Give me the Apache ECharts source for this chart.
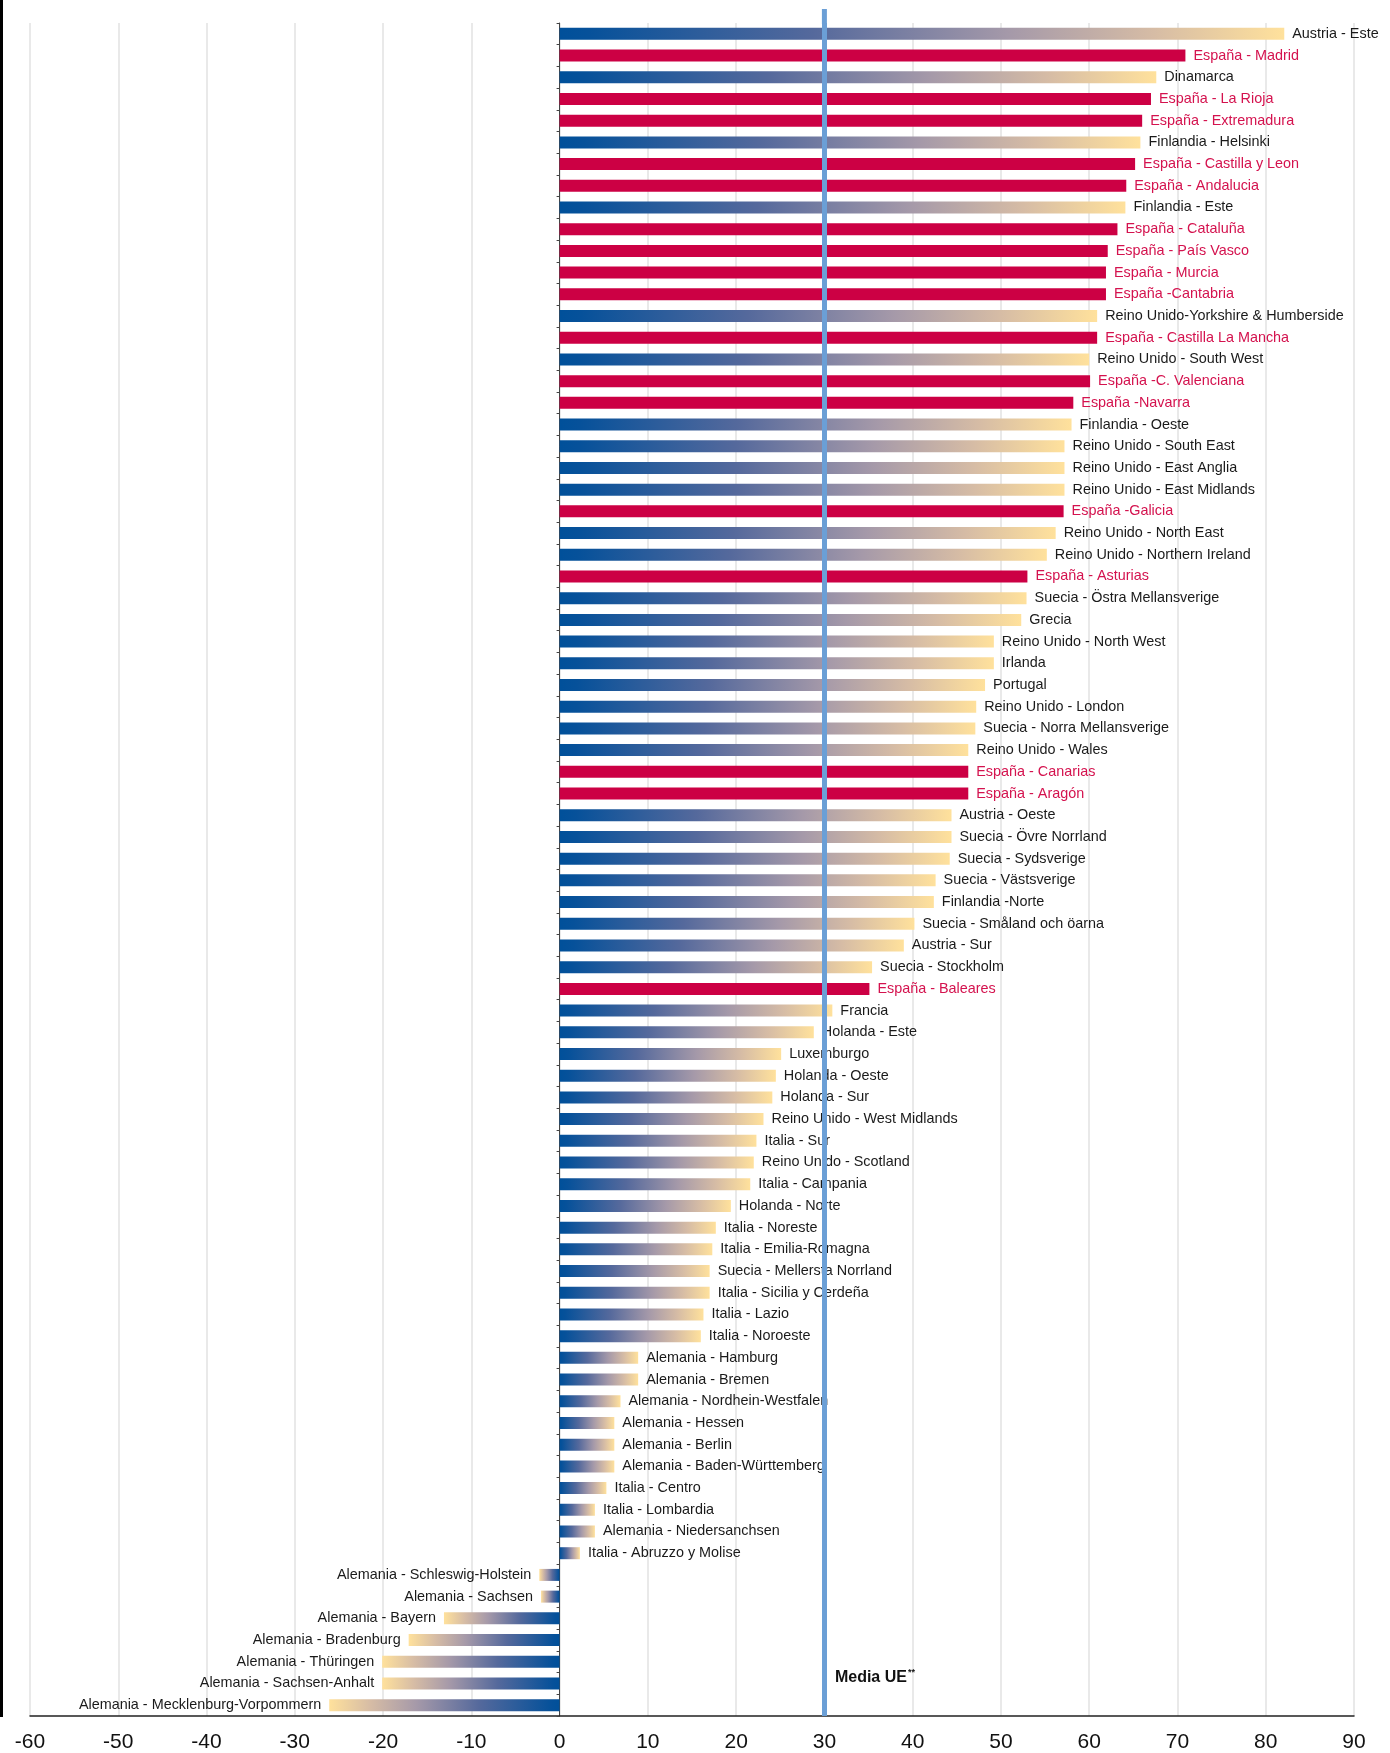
<!DOCTYPE html>
<html>
<head>
<meta charset="utf-8">
<script src="https://cdn.jsdelivr.net/npm/echarts@6/dist/echarts.min.js"></script>
<style>html,body{margin:0;padding:0;background:#fff}#c{width:1390px;height:1753px}</style>
</head>
<body>
<div id="c"></div>
<script>
const categories = [
  "Austria - Este","España - Madrid","Dinamarca","España - La Rioja","España - Extremadura",
  "Finlandia - Helsinki","España - Castilla y Leon","España - Andalucia","Finlandia - Este","España - Cataluña",
  "España - País Vasco","España - Murcia","España -Cantabria","Reino Unido-Yorkshire & Humberside","España - Castilla La Mancha",
  "Reino Unido - South West","España -C. Valenciana","España -Navarra","Finlandia - Oeste","Reino Unido - South East",
  "Reino Unido - East Anglia","Reino Unido - East Midlands","España -Galicia","Reino Unido - North East","Reino Unido - Northern Ireland",
  "España - Asturias","Suecia - Östra Mellansverige","Grecia","Reino Unido - North West","Irlanda",
  "Portugal","Reino Unido - London","Suecia - Norra Mellansverige","Reino Unido - Wales","España - Canarias",
  "España - Aragón","Austria - Oeste","Suecia - Övre Norrland","Suecia - Sydsverige","Suecia - Västsverige",
  "Finlandia -Norte","Suecia - Småland och öarna","Austria - Sur","Suecia - Stockholm","España - Baleares",
  "Francia","Holanda - Este","Luxemburgo","Holanda - Oeste","Holanda - Sur",
  "Reino Unido - West Midlands","Italia - Sur","Reino Unido - Scotland","Italia - Campania","Holanda - Norte",
  "Italia - Noreste","Italia - Emilia-Romagna","Suecia - Mellersta Norrland","Italia - Sicilia y Cerdeña","Italia - Lazio",
  "Italia - Noroeste","Alemania - Hamburg","Alemania - Bremen","Alemania - Nordhein-Westfalen","Alemania - Hessen",
  "Alemania - Berlin","Alemania - Baden-Württemberg","Italia - Centro","Italia - Lombardia","Alemania - Niedersanchsen",
  "Italia - Abruzzo y Molise","Alemania - Schleswig-Holstein","Alemania - Sachsen","Alemania - Bayern","Alemania - Bradenburg",
  "Alemania - Thüringen","Alemania - Sachsen-Anhalt","Alemania - Mecklenburg-Vorpommern"
];
const values = [
  82.1, 70.9, 67.6, 67.0, 66.0,
  65.8, 65.2, 64.2, 64.1, 63.2,
  62.1, 61.9, 61.9, 60.9, 60.9,
  60.0, 60.1, 58.2, 58.0, 57.2,
  57.2, 57.2, 57.1, 56.2, 55.2,
  53.0, 52.9, 52.3, 49.2, 49.2,
  48.2, 47.2, 47.1, 46.3, 46.3,
  46.3, 44.4, 44.4, 44.2, 42.6,
  42.4, 40.2, 39.0, 35.4, 35.1,
  30.9, 28.8, 25.1, 24.5, 24.1,
  23.1, 22.3, 22.0, 21.6, 19.4,
  17.7, 17.3, 17.0, 17.0, 16.3,
  16.0, 8.9, 8.9, 6.9, 6.2,
  6.2, 6.2, 5.3, 4.0, 4.0,
  2.3, -2.3, -2.1, -13.1, -17.1,
  -20.1, -20.1, -26.1
];
const euAverage = 30;
const xTicks = { min: -60, max: 90, interval: 10 };

const FONT = "'Liberation Sans', Arial, Helvetica, sans-serif";
const SPAIN_BAR = '#cc0044';
const SPAIN_TEXT = '#d4124e';

function gradient(neg) {
  const stops = [
    { offset: 0, color: '#00509a' },
    { offset: 0.04, color: '#06519a' },
    { offset: 0.35, color: '#55699c' },
    { offset: 0.62, color: '#a599a9' },
    { offset: 0.82, color: '#d6bca5' },
    { offset: 1, color: '#ffe19c' }
  ];
  return neg
    ? new echarts.graphic.LinearGradient(1, 0, 0, 0, stops)
    : new echarts.graphic.LinearGradient(0, 0, 1, 0, stops);
}

const data = values.map((v, i) => {
  const spain = categories[i].startsWith('España');
  return {
    value: v,
    itemStyle: { color: spain ? SPAIN_BAR : gradient(v < 0) },
    label: { position: v < 0 ? 'left' : 'right', color: spain ? SPAIN_TEXT : '#1a1a1a' }
  };
});

const chart = echarts.init(document.getElementById('c'), null, { renderer: 'canvas' });
chart.setOption({
  animation: false,
  backgroundColor: '#fff',
  textStyle: { fontFamily: FONT },
  grid: { left: 30, right: 36, top: 23, bottom: 37, containLabel: false },
  xAxis: {
    type: 'value', min: xTicks.min, max: xTicks.max, interval: xTicks.interval,
    axisLine: { show: true, onZero: false, lineStyle: { color: '#222', width: 1.5 } },
    axisTick: { show: false },
    axisLabel: { fontSize: 21, color: '#111', margin: 16, fontFamily: FONT },
    splitLine: { show: true, lineStyle: { color: '#e2e2e2', width: 1.5 } }
  },
  yAxis: {
    type: 'category', data: categories, inverse: true,
    axisLine: { show: true, onZero: true, lineStyle: { color: '#444', width: 1 } },
    axisTick: { show: true, length: 3, lineStyle: { color: '#444' } },
    axisLabel: { show: false },
    splitLine: { show: false }
  },
  series: [{
    type: 'bar', data: data, barWidth: 12,
    label: { show: true, formatter: '{b}', fontSize: 14.4, distance: 8, fontFamily: FONT },
    markLine: {
      silent: true, symbol: 'none', z: 5,
      lineStyle: { color: '#6b9fd6', width: 5, type: 'solid' },
      label: { show: false },
      data: [{ xAxis: euAverage }]
    },
    markPoint: {
      silent: true, symbol: 'circle', symbolSize: 1,
      itemStyle: { color: 'rgba(0,0,0,0)' },
      label: {
        show: true, position: 'right', distance: 10, offset: [0, -6],
        formatter: '{a|Media UE}{b|**}',
        rich: {
          a: { fontSize: 16, fontWeight: 'bold', color: '#111', fontFamily: FONT },
          b: { fontSize: 9, fontWeight: 'bold', color: '#111', fontFamily: FONT, padding: [0, 0, 9, 1] }
        }
      },
      data: [{ coord: [euAverage, 'Alemania - Sachsen-Anhalt'] }]
    }
  }]
});

const lx = chart.convertToPixel({ xAxisIndex: 0 }, euAverage);
chart.setOption({
  graphic: [
    { type: 'rect', shape: { x: 0, y: 0, width: 3, height: 1717 }, style: { fill: '#000' }, z: 10 },
    { type: 'line', shape: { x1: lx, y1: 9, x2: lx, y2: 24 }, style: { stroke: '#6b9fd6', lineWidth: 5 }, z: 10 }
  ]
});
</script>
</body>
</html>
